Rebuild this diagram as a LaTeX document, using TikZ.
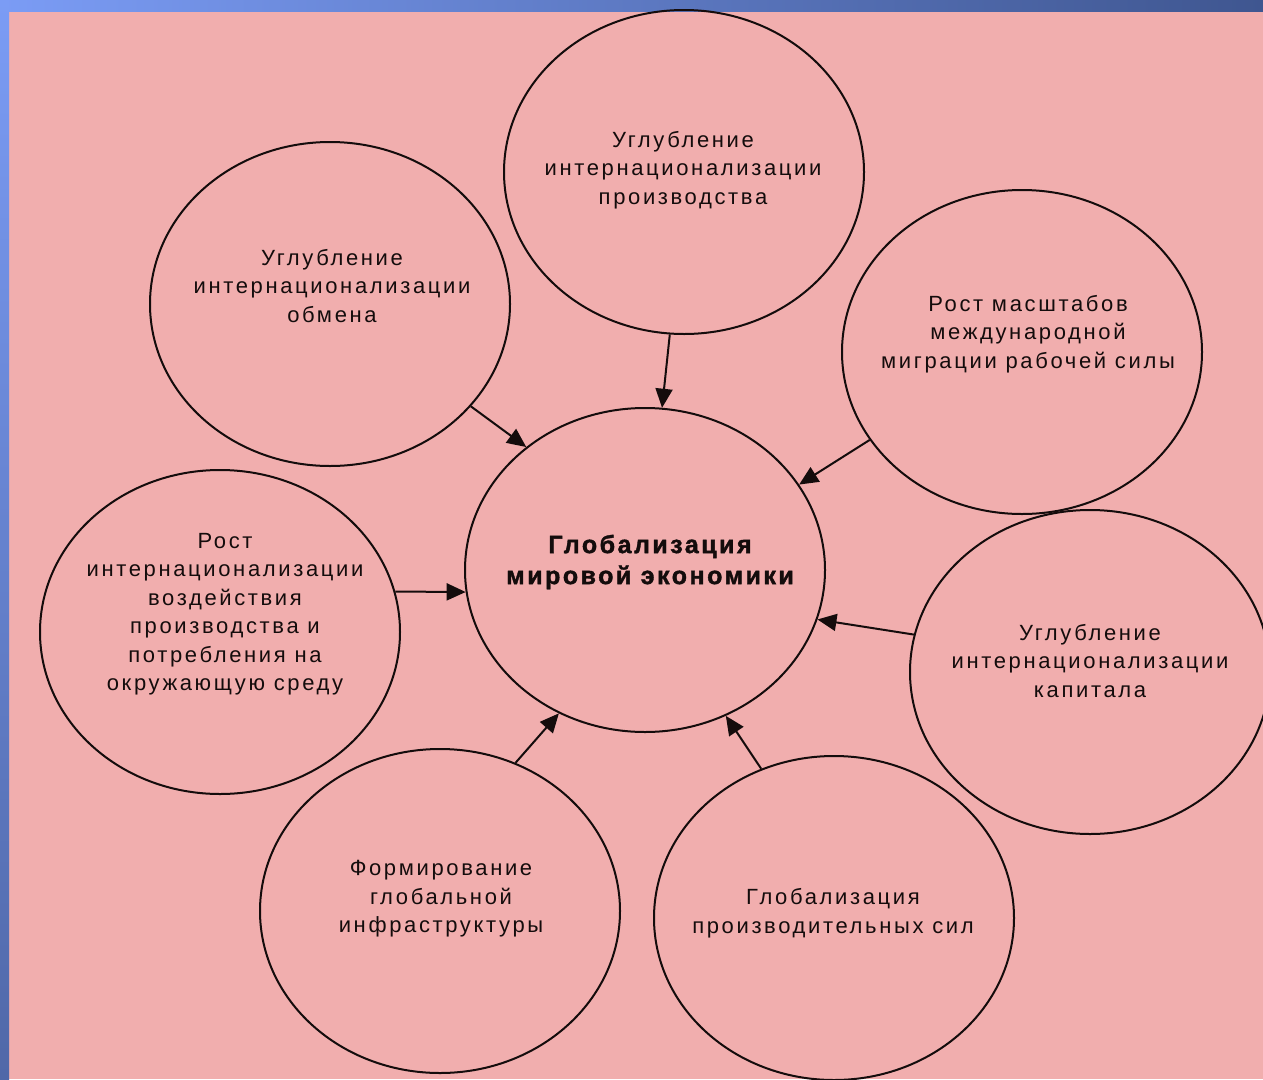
\documentclass[tikz,border=0pt]{standalone}
\usepackage{fontspec}
\setmainfont{Liberation Sans}
\usetikzlibrary{shapes.geometric,arrows.meta}
\definecolor{bgpink}{HTML}{F1AEAE}
\definecolor{blueA}{HTML}{7B9CF5}
\definecolor{blueM}{HTML}{5C78C4}
\definecolor{blueB}{HTML}{3F5690}
\definecolor{blueC}{HTML}{5068A8}
\definecolor{ink}{HTML}{140C0C}
\begin{document}
\begin{tikzpicture}[x=1pt,y=-1pt,
  bub/.style={ellipse,draw=ink,line width=2pt,minimum width=360pt,minimum height=324pt,inner sep=0pt},
  txt/.style={align=center,font=\fontsize{22}{28.5}\selectfont\addfontfeature{LetterSpace=12},text=ink,inner sep=0pt},
  ctxt/.style={align=center,font=\fontsize{25}{31}\selectfont\bfseries\addfontfeature{LetterSpace=10,FakeBold=1.5},text=ink,inner sep=0pt},
  arr/.style={draw=ink,line width=2pt,-{Triangle[length=19pt,width=17pt]}}]
\useasboundingbox (0,0) rectangle (1263,1079);
\clip (0,0) rectangle (1263,1079);
\fill[bgpink] (0,0) rectangle (1263,1079);
\shade[left color=blueA,middle color=blueM,right color=blueB] (0,0) rectangle (1263,11);
\shade[top color=blueA,bottom color=blueC] (0,0) rectangle (9,1079);

\node[bub] (ctr) at (645,570) {};
\node[bub] (top) at (684,172) {};
\node[bub] (tl) at (330,304) {};
\node[bub] (ru) at (1022,352) {};
\node[bub] (lf) at (220,632) {};
\node[bub] (rl) at (1090,672) {};
\node[bub] (bl) at (440,911) {};
\node[bub] (br) at (834,918) {};

\node[ctxt] (tctr) at (650,562) {Глобализация\\мировой экономики};
\node[txt] (ttop) at (683,170) {Углубление\\интернационализации\\производства};
\node[txt] (ttl) at (332,286) {Углубление\\интернационализации\\обмена};
\node[txt] (tru) at (1028,334) {Рост масштабов\\международной\\миграции рабочей силы};
\node[txt] (tlf) at (225,614) {Рост\\интернационализации\\воздействия\\производства и\\потребления на\\окружающую среду};
\node[txt] (trl) at (1090,661) {Углубление\\интернационализации\\капитала};
\node[txt] (tbl) at (441,899) {Формирование\\глобальной\\инфраструктуры};
\node[txt] (tbr) at (833,913) {Глобализация\\производительных сил};

\draw[arr] (top.265) -- (ctr.84);
\draw[arr] (tl.324) -- (ctr.134);
\draw[arr] (ru.210) -- (ctr.29);
\draw[arr] (lf.13) -- (ctr.187);
\draw[arr] (rl.168) -- (ctr.344);
\draw[arr] (bl.63) -- (ctr.239);
\draw[arr] (br.116) -- (ctr.299);
\end{tikzpicture}
\end{document}
